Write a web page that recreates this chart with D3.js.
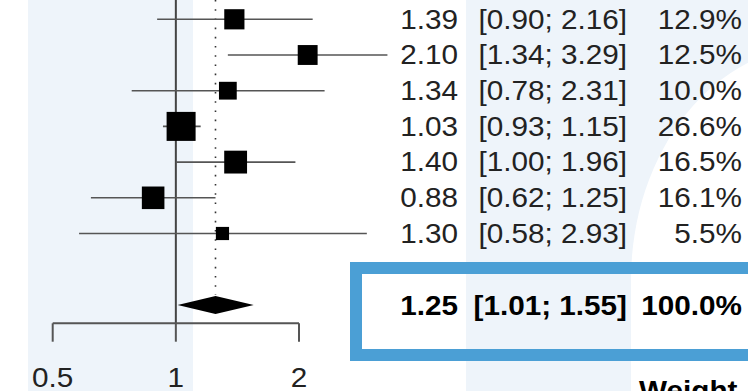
<!DOCTYPE html>
<html lang="en">
<head>
<meta charset="utf-8">
<title>Forest plot</title>
<script src="https://cdn.jsdelivr.net/npm/d3@7"></script>
<style>
  html, body { margin: 0; padding: 0; background: #fff; }
  svg { display: block; font-family: "Liberation Sans", Arial, sans-serif; }
</style>
</head>
<body>
<div id="chart"></div>
<script>
  var width = 748,
      height = 391;

  // study rows
  var estimates = [1.39, 2.10, 1.34, 1.03, 1.40, 0.88, 1.30];
  var lowers    = [0.90, 1.34, 0.78, 0.93, 1.00, 0.62, 0.58];
  var uppers    = [2.16, 3.29, 2.31, 1.15, 1.96, 1.25, 2.93];
  var weights   = [12.9, 12.5, 10.0, 26.6, 16.5, 16.1, 5.5];

  // pooled estimate
  var pooled = { est: 1.25, lo: 1.01, hi: 1.55, w: 100.0 };

  var tickValues = [0.5, 1, 2];
  var tickLabels = ["0.5", "1", "2"];

  var svg = d3.select("#chart")
      .append("svg")
      .attr("width", width)
      .attr("height", height);

  // background bands
  svg.append("rect").attr("x", 28).attr("y", 0).attr("width", 165).attr("height", height).attr("fill", "#eef4fa");
  svg.append("rect").attr("x", 466).attr("y", 0).attr("width", width - 466).attr("height", height).attr("fill", "#eef4fa");
  svg.append("ellipse").attr("cx", 820).attr("cy", 280).attr("rx", 189).attr("ry", 235).attr("fill", "#fff");
  svg.append("rect").attr("x", 631).attr("y", 280).attr("width", width - 631).attr("height", height - 280).attr("fill", "#fff");

  var x = d3.scaleLog().domain([0.5, 2]).range([52.7, 299]);
  var row = function(i) { return 19.3 + i * 35.7; };
  var size = d3.scaleSqrt().domain([0, 26.6]).range([0, 29]);

  var axisY = 323.3;

  // reference line at 1
  svg.append("line")
      .attr("x1", x(1)).attr("x2", x(1))
      .attr("y1", 0).attr("y2", axisY)
      .attr("stroke", "#444").attr("stroke-width", 2);

  // pooled estimate dotted line
  svg.append("line")
      .attr("x1", x(pooled.est)).attr("x2", x(pooled.est))
      .attr("y1", 0).attr("y2", row(8) - 10)
      .attr("stroke", "#333").attr("stroke-width", 1.6)
      .attr("stroke-dasharray", "1.6,7.6");

  var studies = estimates.map(function(d, i) {
    return { est: d, lo: lowers[i], hi: uppers[i], w: weights[i] };
  });

  svg.selectAll(".ci")
      .data(studies)
    .enter().append("line")
      .attr("x1", function(d) { return x(d.lo); })
      .attr("x2", function(d) { return x(d.hi); })
      .attr("y1", function(d, i) { return row(i); })
      .attr("y2", function(d, i) { return row(i); })
      .attr("stroke", "#555").attr("stroke-width", 1.6);

  svg.selectAll(".box")
      .data(studies)
    .enter().append("rect")
      .attr("x", function(d) { return x(d.est) - size(d.w) / 2; })
      .attr("y", function(d, i) { return row(i) - size(d.w) / 2; })
      .attr("width", function(d) { return size(d.w); })
      .attr("height", function(d) { return size(d.w); })
      .attr("fill", "#000");

  // diamond
  var dy = row(8);
  svg.append("path")
      .attr("d", "M" + x(pooled.lo) + "," + dy +
                 "L" + x(pooled.est) + "," + (dy - 9) +
                 "L" + x(pooled.hi) + "," + dy +
                 "L" + x(pooled.est) + "," + (dy + 9) + "Z")
      .attr("fill", "#000");

  // axis
  svg.append("line")
      .attr("x1", x(0.5)).attr("x2", x(2))
      .attr("y1", axisY).attr("y2", axisY)
      .attr("stroke", "#555").attr("stroke-width", 2);
  svg.selectAll(".tick")
      .data(tickValues)
    .enter().append("line")
      .attr("x1", function(d) { return x(d); })
      .attr("x2", function(d) { return x(d); })
      .attr("y1", axisY).attr("y2", axisY + 18.4)
      .attr("stroke", "#555").attr("stroke-width", 2);

  function label(tx, ty, txt, anchor, bold) {
    svg.append("text")
        .attr("transform", "translate(" + tx + "," + ty + ") scale(1.1,1)")
        .attr("text-anchor", anchor)
        .attr("font-size", 27)
        .attr("font-weight", bold ? "bold" : "normal")
        .attr("fill", bold ? "#000" : "#222")
        .text(txt);
  }

  tickValues.forEach(function(d, i) { label(x(d), 387, tickLabels[i], "middle", false); });

  function fmt(v) { return v.toFixed(2); }

  studies.forEach(function(d, i) {
    var y = row(i) + 9.3;
    label(458, y, fmt(d.est), "end", false);
    label(627, y, "[" + fmt(d.lo) + "; " + fmt(d.hi) + "]", "end", false);
    label(742, y, d.w.toFixed(1) + "%", "end", false);
  });

  label(458, dy + 10, fmt(pooled.est), "end", true);
  label(627, dy + 10, "[" + fmt(pooled.lo) + "; " + fmt(pooled.hi) + "]", "end", true);
  label(742, dy + 10, pooled.w.toFixed(1) + "%", "end", true);

  // highlight box around pooled row
  svg.append("rect")
      .attr("x", 356).attr("y", 268)
      .attr("width", 420).attr("height", 87)
      .attr("fill", "none")
      .attr("stroke", "#4b9fd5").attr("stroke-width", 12);

  label(639, 400, "Weight", "start", true);
</script>
</body>
</html>
